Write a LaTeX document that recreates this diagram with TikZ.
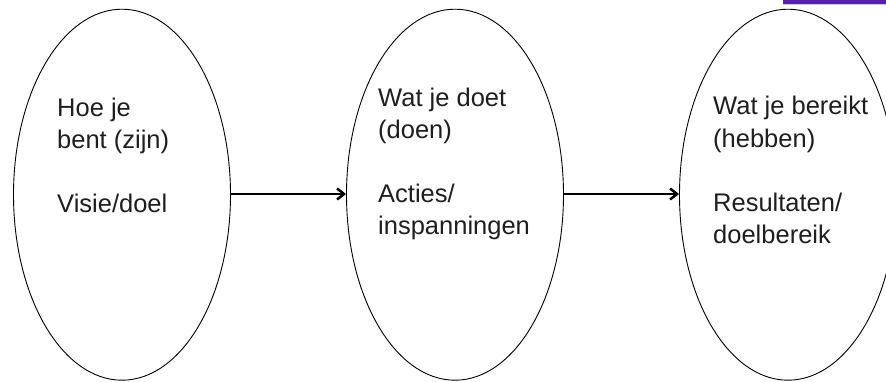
\documentclass[tikz,border=0pt]{standalone}
\usepackage{fontspec}
\setmainfont{Liberation Sans}
\usetikzlibrary{shapes.geometric,arrows.meta}
\definecolor{barpurple}{RGB}{84,32,172}
\definecolor{txtgray}{RGB}{30,30,30}
\begin{document}
\begin{tikzpicture}[x=1pt,y=1pt,
  oval/.style={draw=black,line width=0.9pt,ellipse,minimum width=217pt,minimum height=371pt,inner sep=0pt},
  lbl/.style={anchor=base west,inner sep=0pt,font=\fontsize{25.5}{32}\selectfont,text=txtgray},
  flow/.style={line width=2.5pt,-{Straight Barb[length=7pt,width=11pt,line width=2.5pt]}}]
\useasboundingbox (0,0) rectangle (886,381);
\clip (0,0) rectangle (886,381);
\fill[barpurple] (783,377) rectangle (886,381);
\fill[gray!40] (783,376.3) rectangle (886,377);
\node[oval] (e1) at (122,186.3) {};
\node[oval] (e2) at (455,186.3) {};
\node[oval] (e3) at (788,186.3) {};
% texts ellipse 1
\node[lbl] (t1a) at (57,265) {Hoe je};
\node[lbl] (t1b) at (57,233) {bent (zijn)};
\node[lbl] (t1c) at (57,169) {Visie/doel};
% texts ellipse 2
\node[lbl] (t2a) at (378,275) {Wat je doet};
\node[lbl] (t2b) at (378,243) {(doen)};
\node[lbl] (t2c) at (378,179) {Acties/};
\node[lbl] (t2d) at (378,147) {inspanningen};
% texts ellipse 3
\node[lbl] (t3a) at (713,266) {Wat je bereikt};
\node[lbl] (t3b) at (713,234) {(hebben)};
\node[lbl] (t3c) at (713,170) {Resultaten/};
\node[lbl] (t3d) at (713,138) {doelbereik};
% arrows
\draw[flow] ([yshift=0.7pt]e1.east) -- ([yshift=0.7pt]e2.west);
\draw[flow] ([yshift=0.7pt]e2.east) -- ([yshift=0.7pt]e3.west);
\end{tikzpicture}
\end{document}
